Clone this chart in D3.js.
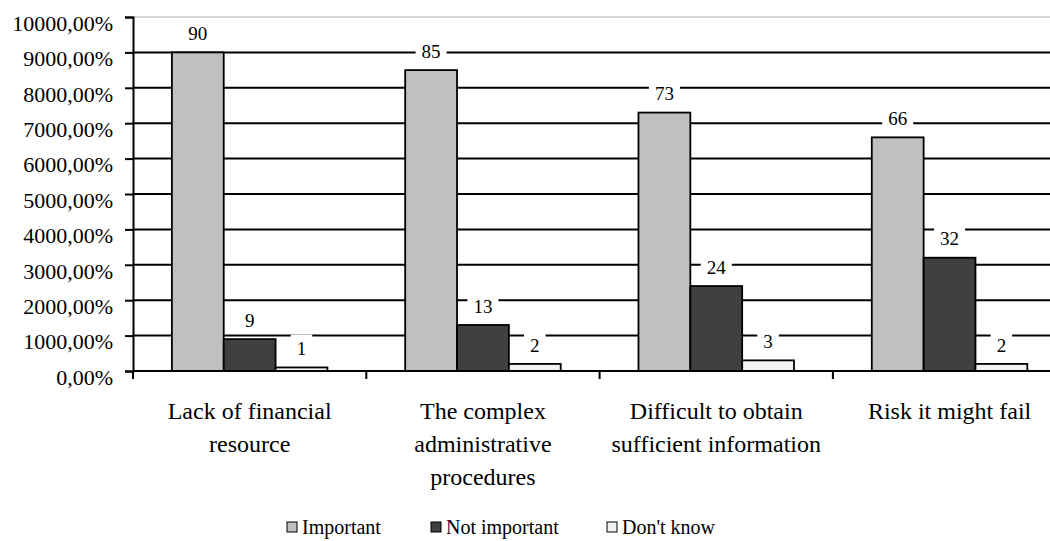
<!DOCTYPE html>
<html>
<head>
<meta charset="utf-8">
<script src="https://cdn.jsdelivr.net/npm/d3@7/dist/d3.min.js"></script>
<style>
  html, body { margin: 0; padding: 0; background: #fff; }
  svg, svg text { font-family: "Times New Roman", "Liberation Serif", Tinos, "DejaVu Serif", "Noto Serif", serif; }
</style>
</head>
<body>
<svg id="chart" width="1050" height="541"></svg>
<script>
// Obstacles to starting a business: share of respondents per answer
const categories = [
  ["Lack of financial", "resource"],
  ["The complex", "administrative", "procedures"],
  ["Difficult to obtain", "sufficient information"],
  ["Risk it might fail"]
];
const seriesNames = ["Important", "Not important", "Don't know"];
const important = [90, 85, 73, 66];
const notImportant = [9, 13, 24, 32];
const dontKnow = [1, 2, 3, 2];
const yTicks = [0, 10, 20, 30, 40, 50, 60, 70, 80, 90, 100];
const colors = ["#c0c0c0", "#404040", "#f2f2f2"];

const seriesValues = [important, notImportant, dontKnow];
const keys = categories.map(c => c.join(" "));

const svg = d3.select("#chart");
const plotLeft = 133, plotTop = 17, plotBottom = 371, bandW = 233.3;
const plotRight = plotLeft + bandW * categories.length;

const x = d3.scaleBand().domain(keys).range([plotLeft, plotRight]).padding(0);
const xs = d3.scaleBand().domain(seriesNames).range([0, x.bandwidth()])
  .paddingInner(0).paddingOuter(0.75);
const y = d3.scaleLinear().domain([0, 100]).range([plotBottom, plotTop]);

// horizontal gridlines
svg.append("g").selectAll("line").data(yTicks).join("line")
  .attr("x1", plotLeft).attr("x2", plotRight)
  .attr("y1", d => y(d)).attr("y2", d => y(d))
  .attr("stroke", d => d === 100 ? "#d4d4d4" : "#000")
  .attr("stroke-width", 2);

// y axis
const yAxis = svg.append("g").attr("transform", `translate(${plotLeft},0)`)
  .call(d3.axisLeft(y).tickValues(yTicks).tickSize(8).tickPadding(12)
    .tickFormat(d => (d * 100) + ",00%"));
yAxis.attr("font-family", null);
yAxis.select(".domain").attr("stroke", "#000").attr("stroke-width", 2);
yAxis.selectAll(".tick line").attr("stroke", "#000").attr("stroke-width", 2);
yAxis.selectAll(".tick text").attr("font-size", 22).attr("fill", "#000").attr("dy", "0.6em");

// bars
const groups = svg.append("g").selectAll("g").data(keys).join("g")
  .attr("transform", d => `translate(${x(d)},0)`);
const cells = groups.selectAll("g.bar").data((k, i) => seriesNames.map((s, j) => ({
  s, j, v: seriesValues[j][i]
}))).join("g").attr("class", "bar");
cells.append("rect")
  .attr("x", d => xs(d.s)).attr("width", xs.bandwidth())
  .attr("y", d => y(d.v)).attr("height", d => plotBottom - y(d.v))
  .attr("fill", d => colors[d.j]).attr("stroke", "#000").attr("stroke-width", 1.8);

// x axis baseline and category ticks
svg.append("line").attr("x1", plotLeft).attr("x2", plotRight)
  .attr("y1", plotBottom).attr("y2", plotBottom).attr("stroke", "#000").attr("stroke-width", 2);
svg.append("g").selectAll("line").data(keys.concat(["end"])).join("line")
  .attr("x1", (d, i) => plotLeft + i * x.step()).attr("x2", (d, i) => plotLeft + i * x.step())
  .attr("y1", plotBottom).attr("y2", plotBottom + 8)
  .attr("stroke", "#000").attr("stroke-width", 2);

// category labels
const catG = svg.append("g").selectAll("text").data(categories).join("text")
  .attr("x", (d, i) => x(keys[i]) + x.bandwidth() / 2)
  .attr("y", 419).attr("text-anchor", "middle").attr("font-size", 24).attr("fill", "#000");
catG.selectAll("tspan").data(d => d).join("tspan")
  .attr("x", function () { return d3.select(this.parentNode).attr("x"); })
  .attr("dy", (d, i) => i === 0 ? 0 : 33).text(d => d);

// value labels with white backgrounds
const lab = groups.selectAll("g.lab").data((k, i) => seriesNames.map((s, j) => ({
  s, j, v: seriesValues[j][i]
}))).join("g").attr("class", "lab")
  .attr("transform", d => `translate(${xs(d.s) + xs.bandwidth() / 2},${y(d.v) - 19})`);
lab.append("rect").attr("fill", "#fff");
lab.append("text").attr("text-anchor", "middle").attr("dy", "0.35em")
  .attr("font-size", 19).attr("fill", "#000").text(d => d.v);
lab.each(function () {
  const g = d3.select(this);
  const w = g.select("text").node().getComputedTextLength();
  g.select("rect").attr("x", -w / 2 - 6).attr("width", w + 12).attr("y", -14).attr("height", 27);
});

// legend
const legendX = [287, 431, 607];
const leg = svg.append("g").selectAll("g").data(seriesNames).join("g")
  .attr("transform", (d, i) => `translate(${legendX[i]},522)`);
leg.append("rect").attr("width", 10).attr("height", 10)
  .attr("fill", (d, i) => colors[i]).attr("stroke", "#000").attr("stroke-width", 1);
leg.append("text").attr("x", 15).attr("y", 12).attr("font-size", 20).attr("fill", "#000").text(d => d);
</script>
</body>
</html>
